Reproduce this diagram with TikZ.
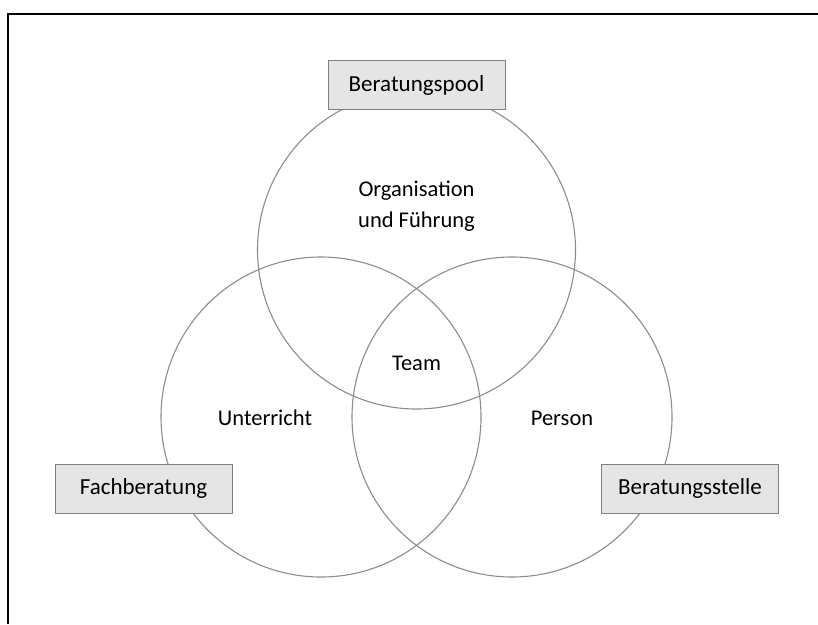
\documentclass[tikz,border=0pt]{standalone}
\usepackage{fontspec}
\setmainfont{Carlito}
\usetikzlibrary{calc}

\tikzset{
    ring/.style={draw=black!45, line width=1.1pt},
    labelbox/.style={draw=black!50, fill=black!10, line width=1pt, minimum width=177pt, minimum height=49pt, font=\fontsize{23}{26}\selectfont},
    area/.style={align=center, font=\fontsize{22.5}{31}\selectfont}
}

\begin{document}
\begin{tikzpicture}[x=1pt, y=-1pt]
    \useasboundingbox (0,0) rectangle (818,624);
    \draw[line width=2.5pt] (818,14) -- (8,14) -- (8,624);

    \coordinate (orgc) at (416.5,250);
    \coordinate (unic) at (321,417);
    \coordinate (perc) at (512,417);
    \draw[ring] (orgc) circle (159);
    \draw[ring] (unic) circle (160);
    \draw[ring] (perc) circle (160);

    \node[area] (org) at (416.5,206) {Organisation\\und Führung};
    \node[area] (team) at (416.5,363) {Team};
    \node[area] (unt) at (265,418) {Unterricht};
    \node[area] (pers) at (562,418) {Person};

    \node[labelbox] (pool) at (416.5,85) {Beratungspool};
    \node[labelbox] (fach) at (143.5,488.5) {Fachberatung};
    \node[labelbox] (stelle) at (690,488.5) {Beratungsstelle};
\end{tikzpicture}
\end{document}
